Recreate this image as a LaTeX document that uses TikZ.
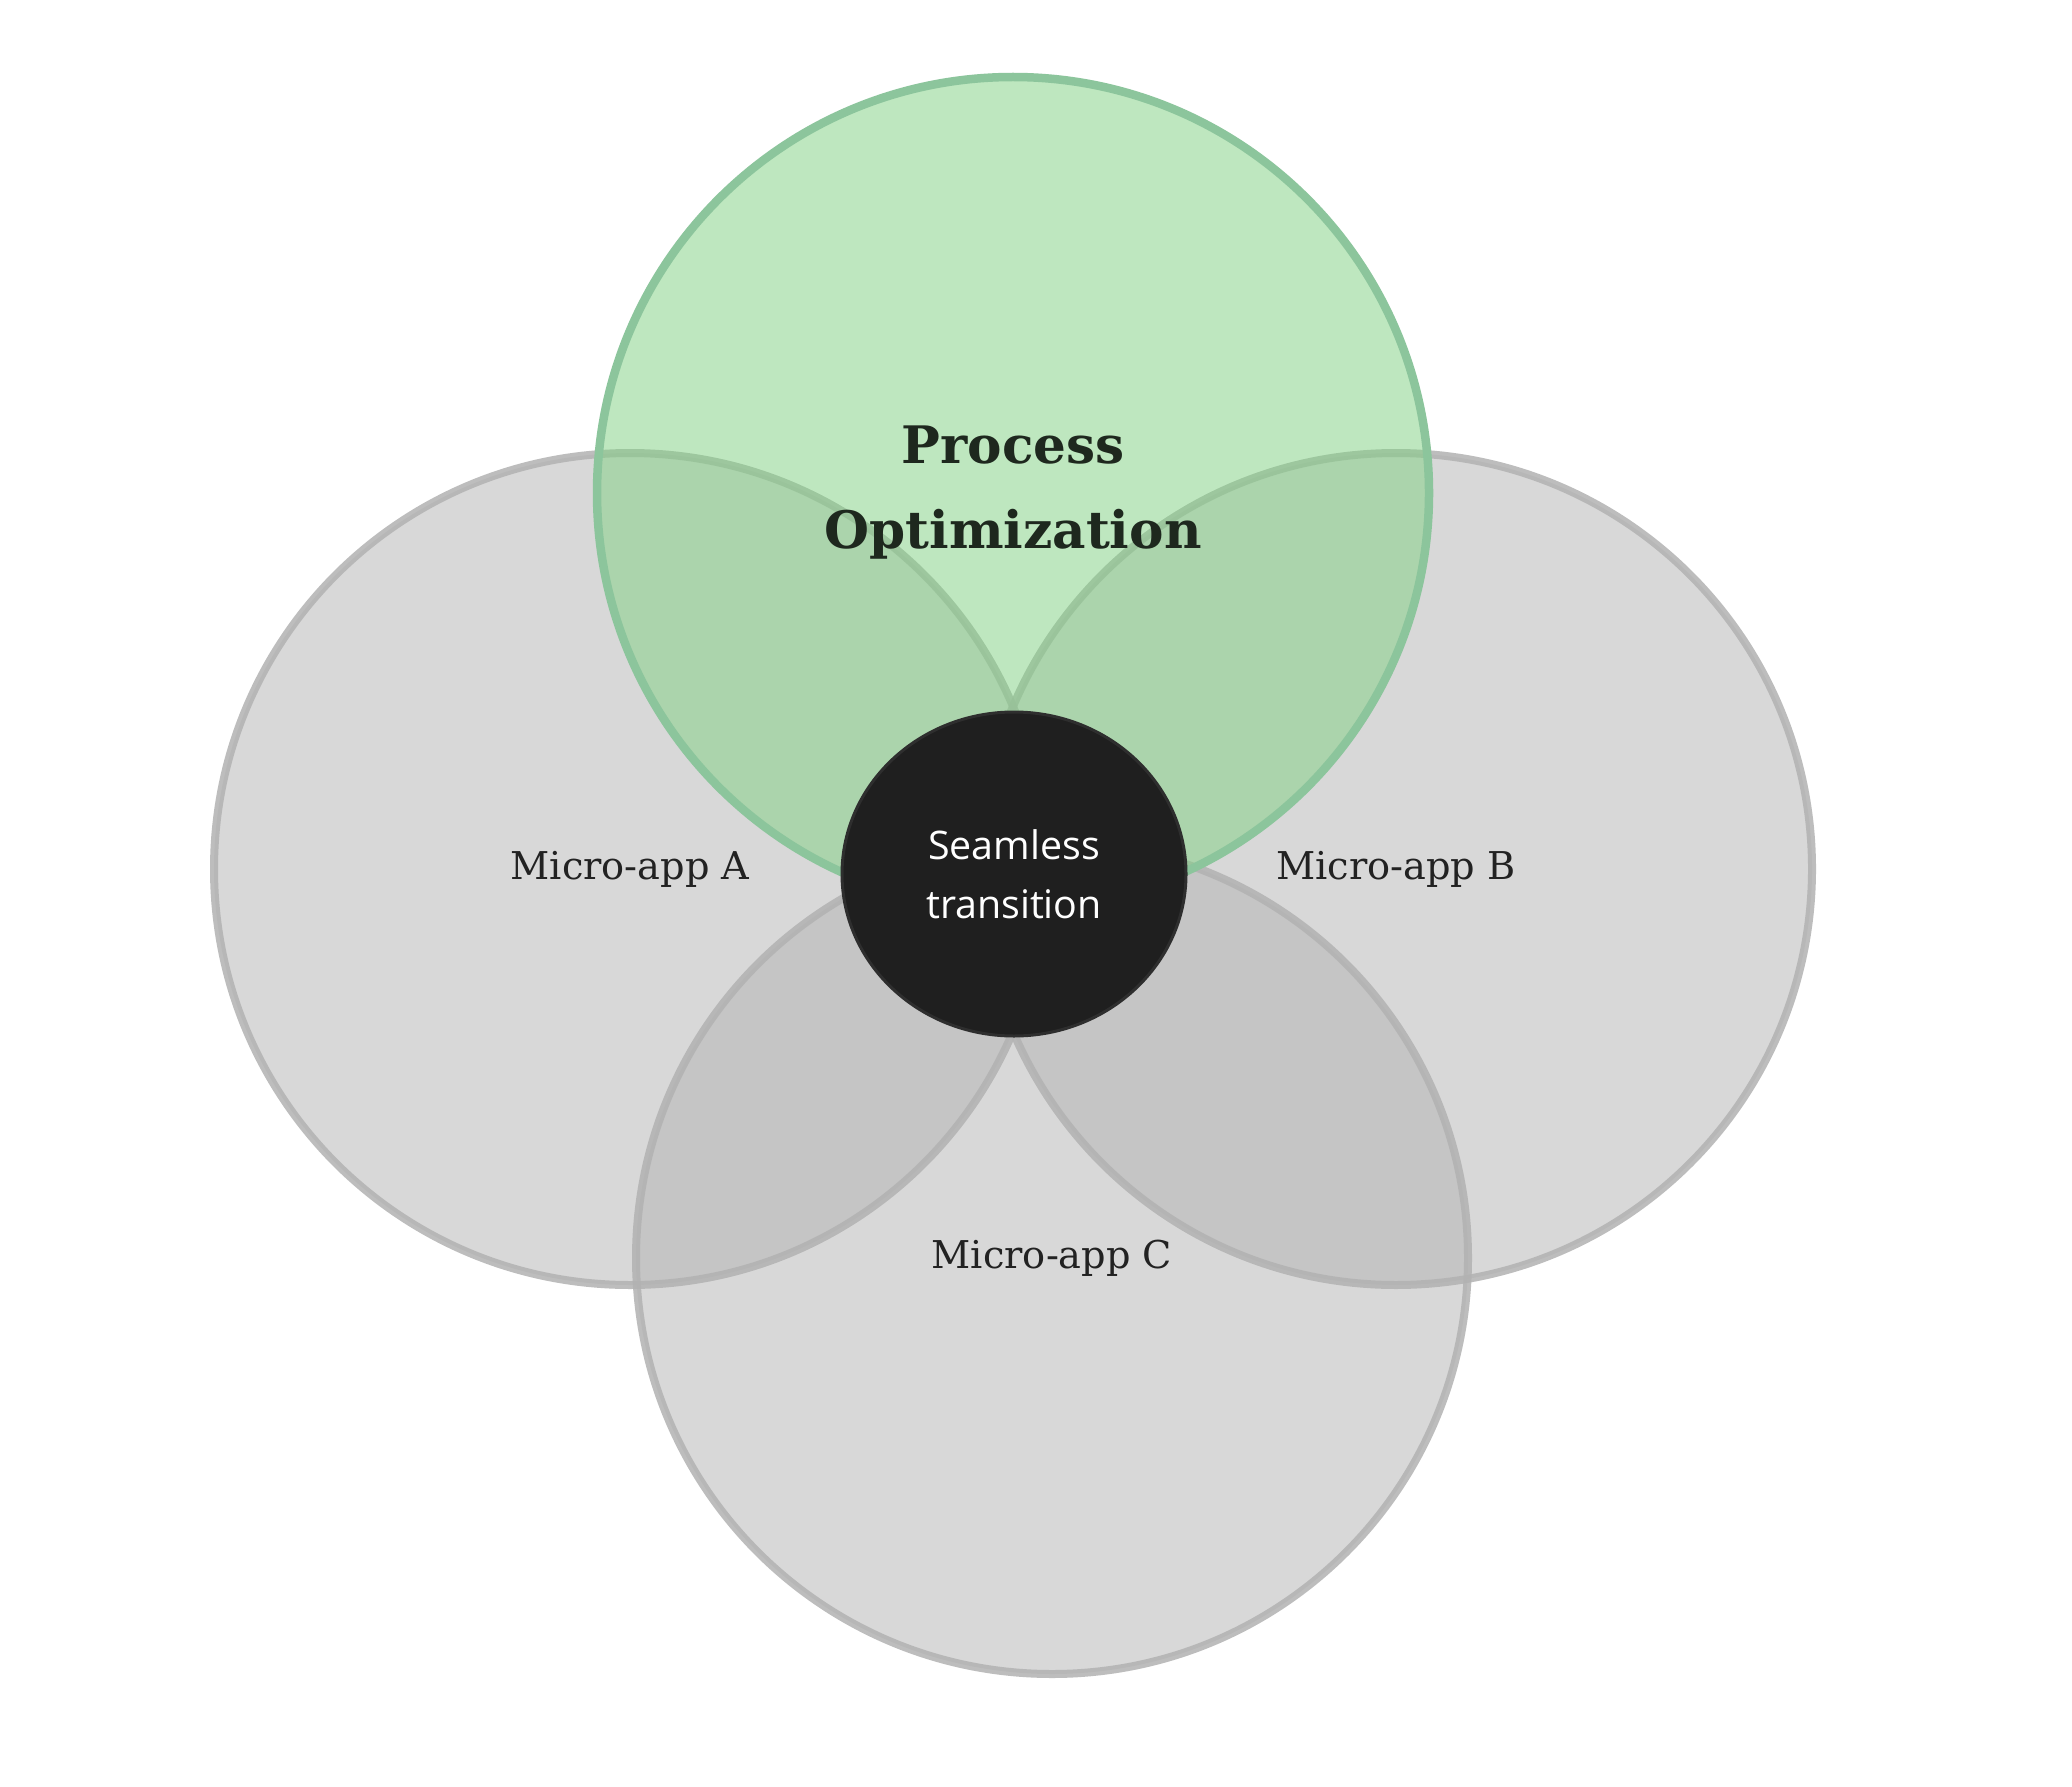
\documentclass[tikz,border=0pt]{standalone}
\usepackage{fontspec}
\setmainfont{DejaVu Serif}
\newfontfamily\sansf{Open Sans}
\usetikzlibrary{shapes.geometric}
\definecolor{grayfill}{RGB}{179,179,179}
\definecolor{graydraw}{RGB}{178,178,178}
\definecolor{greenfill}{RGB}{127,209,129}
\definecolor{greendraw}{RGB}{140,197,156}
\definecolor{darkfill}{RGB}{31,31,31}
\definecolor{darkdraw}{RGB}{46,46,46}
\definecolor{txt}{RGB}{34,34,34}
\definecolor{titletxt}{RGB}{30,40,30}
\begin{document}
\begin{tikzpicture}[x=0.1mm,y=-0.1mm,
  venn/.style={circle, minimum size=83.2mm, inner sep=0pt, line width=0.8mm, align=center, text opacity=1},
  graycirc/.style={venn, fill=grayfill, fill opacity=0.5, draw=graydraw, draw opacity=0.85,
    text=txt, font=\fontsize{10.9}{13}\selectfont},
  greencirc/.style={venn, fill=greenfill, fill opacity=0.5, draw=greendraw, draw opacity=1,
    line width=0.85mm, text=titletxt, font=\fontsize{14.7}{24.2}\selectfont\bfseries},
  hub/.style={ellipse, minimum width=34.4mm, minimum height=32.4mm, inner sep=0pt,
    fill=darkfill, draw=darkdraw, line width=0.3mm, text=white, align=center,
    font=\sansf\fontsize{11.2}{16.8}\selectfont}]
\fill[white] (0,0) rectangle (2072,1786);
\useasboundingbox (0,0) rectangle (2072,1786);
\node[graycirc] (A) at (630,869) {Micro-app A};
\node[graycirc] (B) at (1396,869) {Micro-app B};
\node[graycirc] (C) at (1052,1258) {Micro-app C};
\node[greencirc] (G) at (1013,493) {Process\\Optimization};
\node[hub] (S) at (1014,874) {Seamless\\transition};
\end{tikzpicture}
\end{document}
